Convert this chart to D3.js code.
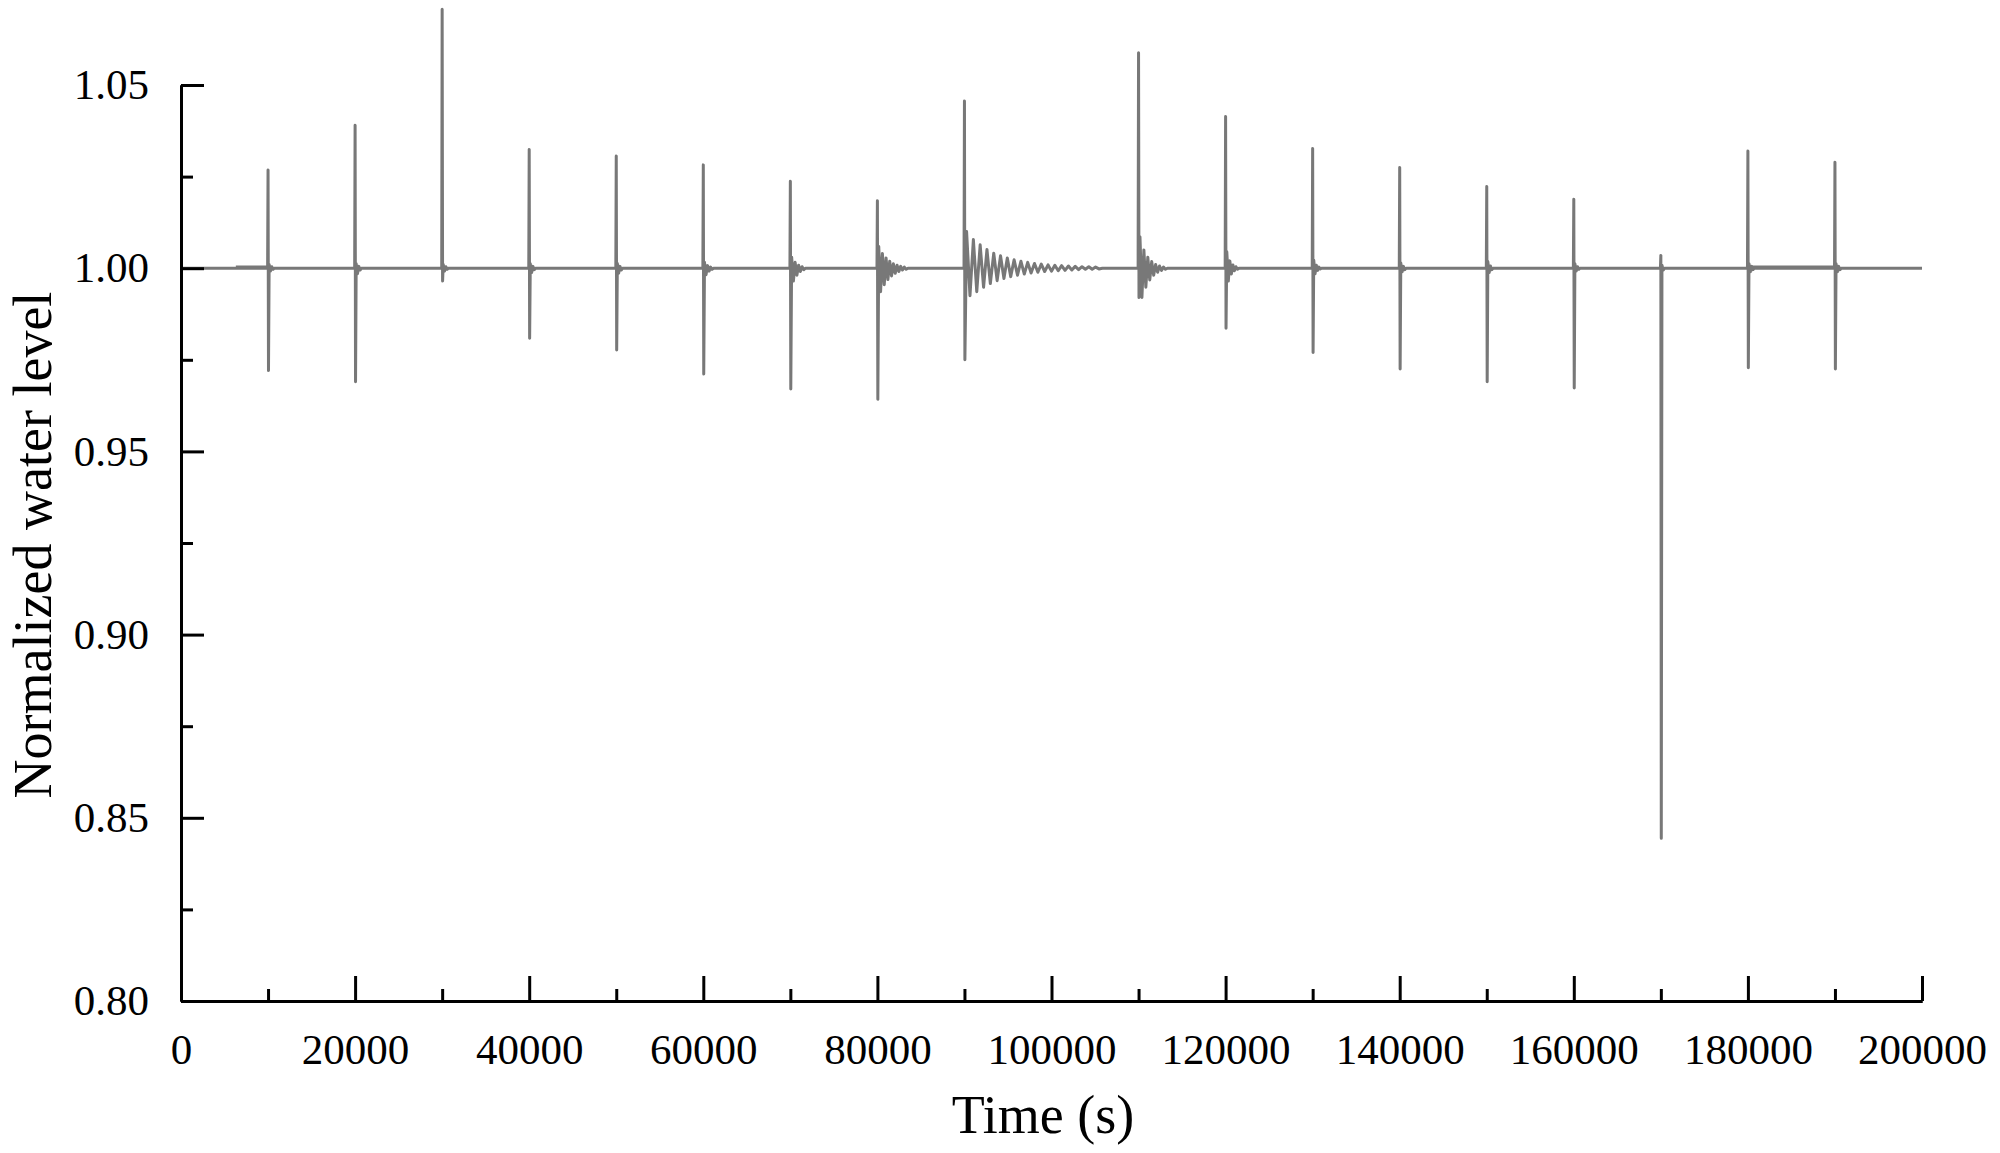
<!DOCTYPE html>
<html>
<head>
<meta charset="utf-8">
<script src="https://cdn.jsdelivr.net/npm/d3@7"></script>
<style>
body { margin: 0; background: #fff; }
svg text { font-family: "Liberation Serif", "Times New Roman", serif; fill: #000; }
.axis path, .axis line { stroke: #000; stroke-width: 3; }
.series { fill: none; stroke: #787878; stroke-width: 3; stroke-linejoin: round; }
</style>
</head>
<body>
<svg id="chart" width="2000" height="1153"></svg>
<script>
// tick labels
var xTicks = [0, 20000, 40000, 60000, 80000, 100000, 120000, 140000, 160000, 180000, 200000];
var xMinorTicks = [10000, 30000, 50000, 70000, 90000, 110000, 130000, 150000, 170000, 190000];
var yTicks = [0.80, 0.85, 0.90, 0.95, 1.00, 1.05];
var yMinorTicks = [0.825, 0.875, 0.925, 0.975, 1.025];

// disturbances
var eventTime = [10000, 20000, 30000, 40000, 50000, 60000, 70000, 80000, 90000,
                 110000, 120000, 130000, 140000, 150000, 160000, 170000, 180000, 190000];
var eventMax = [1.0268, 1.0390, 1.0707, 1.0324, 1.0306, 1.0282, 1.0237, 1.0184, 1.0456,
                1.0588, 1.0414, 1.0327, 1.0275, 1.0223, 1.0188, 1.0035, 1.0320, 1.0289];
var eventMin = [0.9721, 0.9690, 0.9965, 0.9809, 0.9777, 0.9711, 0.9670, 0.9642, 0.9750,
                0.9920, 0.9836, 0.9770, 0.9725, 0.9690, 0.9673, 0.8444, 0.9728, 0.9725];
// ringing after each spike: period (s), crest and trough offsets from 1.0
var ringPeriod = [300, 300, 300, 300, 300, 350, 400, 420, 780,
                  450, 350, 300, 300, 300, 300, 300, 300, 300];
var ringHigh = [
  [0.0010, 0.0004], [0.0012, 0.0005], [0.0010, 0.0004], [0.0012, 0.0005], [0.0013, 0.0005],
  [0.0016, 0.0007, 0.0003],
  [0.0030, 0.0016, 0.0008, 0.0004],
  [0.0059, 0.0040, 0.0028, 0.0019, 0.0012, 0.0008, 0.0005, 0.0003],
  [0.0100, 0.0078, 0.0064, 0.0051, 0.0041, 0.0034, 0.0028, 0.0023, 0.0019, 0.0016,
   0.0013, 0.0011, 0.0009, 0.0008, 0.0007, 0.0006, 0.0005, 0.0004, 0.0004, 0.0003],
  [0.0086, 0.0050, 0.0030, 0.0018, 0.0010, 0.0006, 0.0003],
  [0.0045, 0.0020, 0.0009, 0.0004],
  [0.0022, 0.0008, 0.0003], [0.0014, 0.0005], [0.0018, 0.0006], [0.0012, 0.0004],
  [0.0008], [0.0012, 0.0005], [0.0012, 0.0005]
];
var ringLow = [
  [-0.0008, -0.0003], [-0.0015, -0.0005], [-0.0008, -0.0003], [-0.0012, -0.0004], [-0.0014, -0.0005],
  [-0.0018, -0.0008, -0.0003],
  [-0.0035, -0.0019, -0.0009, -0.0004],
  [-0.0064, -0.0045, -0.0031, -0.0021, -0.0014, -0.0009, -0.0005, -0.0003],
  [-0.0075, -0.0064, -0.0052, -0.0042, -0.0034, -0.0028, -0.0023, -0.0019, -0.0016, -0.0013,
   -0.0011, -0.0009, -0.0008, -0.0007, -0.0006, -0.0005, -0.0004, -0.0003, -0.0003, -0.0002],
  [-0.0080, -0.0052, -0.0032, -0.0019, -0.0011, -0.0006, -0.0003],
  [-0.0035, -0.0016, -0.0007, -0.0003],
  [-0.0015, -0.0006, -0.0002], [-0.0010, -0.0004], [-0.0012, -0.0004], [-0.0008, -0.0003],
  [-0.0005], [-0.0010, -0.0004], [-0.0010, -0.0004]
];
// short stretches where the trace sits a hair above 1.0
var plateauStart = [6300, 180000];
var plateauEnd = [10000, 190000];
var plateauLevel = [1.0003, 1.0003];

var tStart = 0, tEnd = 200000, baseLevel = 1.0;

var svg = d3.select('#chart');
var plotLeft = 181, plotRight = 1922, plotTop = 85, plotBottom = 1001;

var x = d3.scaleLinear().domain([0, 200000]).range([plotLeft, plotRight]);
var y = d3.scaleLinear().domain([0.80, 1.05]).range([plotBottom, plotTop]);

// build the trace
var pts = [{t: tStart, v: baseLevel}];
eventTime.forEach(function(t, i) {
  var P = ringPeriod[i], t0 = t + 50;
  pts.push({t: t - 50, v: baseLevel});
  pts.push({t: t, v: eventMax[i]});
  pts.push({t: t0, v: eventMin[i]});
  ringHigh[i].forEach(function(h, k) {
    pts.push({t: t0 + P * k + P / 4, v: baseLevel + h});
    pts.push({t: t0 + P * k + 3 * P / 4, v: baseLevel + ringLow[i][k]});
  });
  pts.push({t: t0 + P * ringHigh[i].length + P / 4, v: baseLevel});
});
pts.push({t: tEnd, v: baseLevel});

var line = d3.line()
  .x(function(d) { return x(d.t); })
  .y(function(d) { return y(d.v); });

svg.append('path').datum(pts).attr('class', 'series').attr('d', line);

plateauStart.forEach(function(s, i) {
  svg.append('path')
    .datum([{t: s, v: plateauLevel[i]}, {t: plateauEnd[i], v: plateauLevel[i]}])
    .attr('class', 'series').attr('d', line);
});

// axes, ticks pointing inward
var xAxis = d3.axisBottom(x).tickValues(xTicks).tickSizeInner(-25).tickSizeOuter(0)
  .tickPadding(32).tickFormat(d3.format('d'));
var xMinor = d3.axisBottom(x).tickValues(xMinorTicks).tickSizeInner(-12).tickSizeOuter(0)
  .tickFormat('');
var yAxis = d3.axisLeft(y).tickValues(yTicks).tickSizeInner(-23).tickSizeOuter(0)
  .tickPadding(32).tickFormat(d3.format('.2f'));
var yMinor = d3.axisLeft(y).tickValues(yMinorTicks).tickSizeInner(-12).tickSizeOuter(0)
  .tickFormat('');

svg.append('g').attr('class', 'axis').attr('transform', 'translate(0,' + plotBottom + ')').call(xMinor);
svg.append('g').attr('class', 'axis').attr('transform', 'translate(0,' + plotBottom + ')').call(xAxis);
svg.append('g').attr('class', 'axis').attr('transform', 'translate(' + plotLeft + ',0)').call(yMinor);
svg.append('g').attr('class', 'axis').attr('transform', 'translate(' + plotLeft + ',0)').call(yAxis);

svg.selectAll('.axis text').attr('font-family', null).style('font-size', '43px');

svg.append('text')
  .attr('x', 1043).attr('y', 1133)
  .attr('text-anchor', 'middle')
  .style('font-size', '54px')
  .text('Time (s)');

svg.append('text')
  .attr('transform', 'translate(51,545) rotate(-90)')
  .attr('text-anchor', 'middle')
  .style('font-size', '54px')
  .text('Normalized water level');
</script>
</body>
</html>
